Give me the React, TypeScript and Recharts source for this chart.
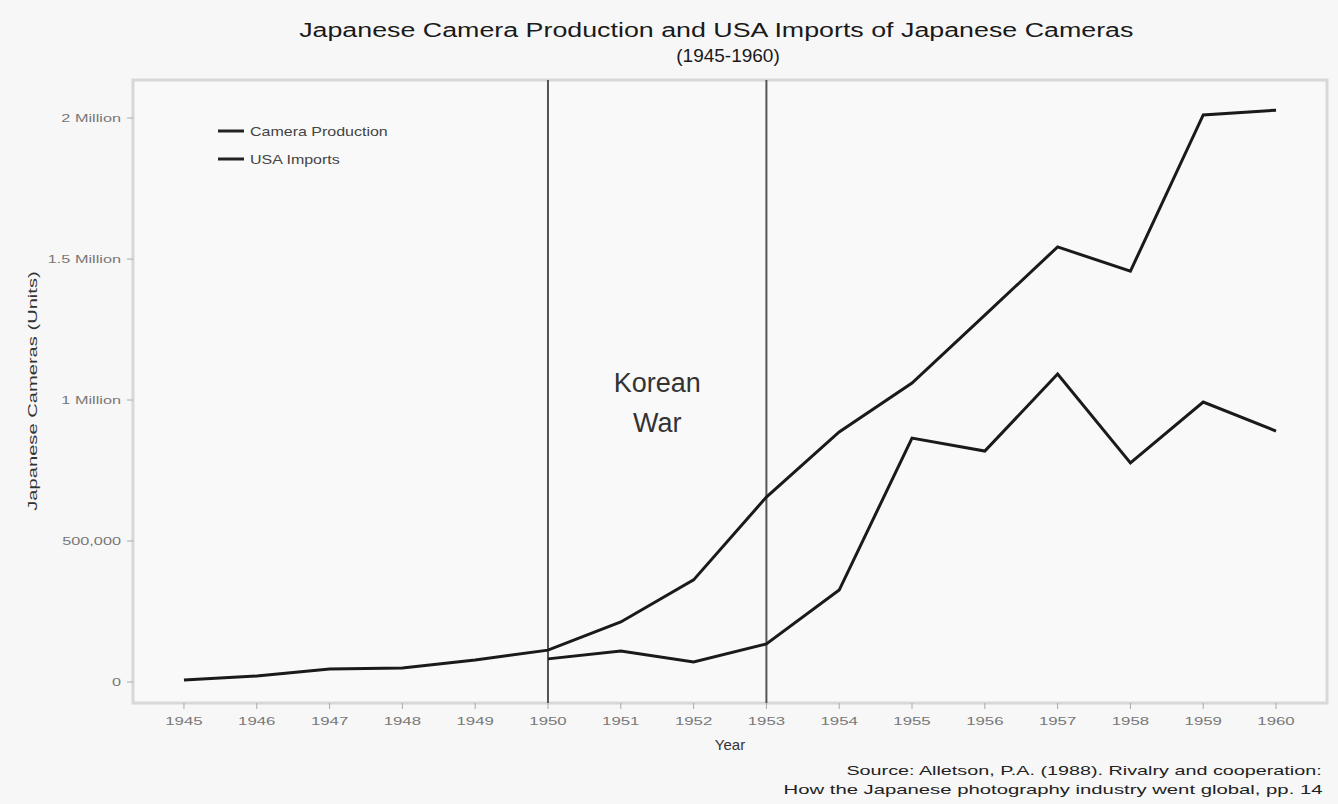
import React from 'react';
import {
  LineChart,
  Line,
  XAxis,
  YAxis,
  ReferenceLine,
  ReferenceArea,
} from 'recharts';

const years = [1945, 1946, 1947, 1948, 1949, 1950, 1951, 1952, 1953, 1954, 1955, 1956, 1957, 1958, 1959, 1960];
const cameraProduction = [7000, 21000, 46000, 50000, 78000, 113000, 213000, 362000, 656000, 887000, 1060000, 1301000, 1543000, 1457000, 2011000, 2028000];
const usaImports = [null, null, null, null, null, 82000, 110000, 71000, 135000, 326000, 865000, 819000, 1092000, 777000, 993000, 890000];
const seriesNames = ['Camera Production', 'USA Imports'];
const yTicks = [0, 500000, 1000000, 1500000, 2000000];
const yTickLabels: Record<number, string> = {
  0: '0',
  500000: '500,000',
  1000000: '1 Million',
  1500000: '1.5 Million',
  2000000: '2 Million',
};
const warStart = 1950;
const warEnd = 1953;

const data = years.map((year, i) => ({
  year,
  production: cameraProduction[i],
  imports: usaImports[i],
}));

const FONT = '"Liberation Sans", Arial, sans-serif';

// the source image has its text stretched sideways, so scale x a bit
const XTick = ({ x, y, payload }: any) => (
  <g transform={`translate(${x},${y})`}>
    <text textAnchor="middle" dy={14} fontSize={10.5} fill="#777" fontFamily={FONT} transform="scale(1.6,1)">
      {payload.value}
    </text>
  </g>
);

const YTick = ({ x, y, payload }: any) => (
  <g transform={`translate(${x - 4},${y})`}>
    <text textAnchor="end" dy={4} fontSize={10.5} fill="#777" fontFamily={FONT} transform="scale(1.55,1)">
      {yTickLabels[payload.value] ?? String(payload.value)}
    </text>
  </g>
);

const YLabel = () => (
  <text
    transform="translate(37,391) rotate(-90) scale(1.55,1)"
    textAnchor="middle"
    fontSize={13}
    fill="#333"
    fontFamily={FONT}
  >
    Japanese Cameras (Units)
  </text>
);

const LegendBox = () => (
  <div style={{ position: 'absolute', left: 216, top: 117, fontFamily: FONT, fontSize: 13, color: '#444' }}>
    {seriesNames.map(name => (
      <div key={name} style={{ display: 'flex', alignItems: 'center', height: 28 }}>
        <svg width={30} height={10}>
          <line x1={2} y1={5} x2={28} y2={5} stroke="#222" strokeWidth={3} />
        </svg>
        <span style={{ marginLeft: 4, display: 'inline-block', transform: 'scaleX(1.23)', transformOrigin: 'left' }}>{name}</span>
      </div>
    ))}
  </div>
);

const WarLabel = (props: any) => {
  const vb = props.viewBox || {};
  const cx = vb.x + vb.width / 2;
  return (
    <text x={cx} y={392} textAnchor="middle" fontFamily={FONT} fontSize={27} fill="#333">
      <tspan x={cx} dy={0}>Korean</tspan>
      <tspan x={cx} dy={40}>War</tspan>
    </text>
  );
};

export default function App() {
  return (
    <div
      style={{
        position: 'absolute',
        left: 0,
        top: 0,
        width: 1338,
        height: 804,
        background: '#f7f7f7',
        fontFamily: FONT,
      }}
    >
      <div style={{ position: 'absolute', top: 18, left: 0, width: 1338, textAlign: 'center', fontSize: 20, color: '#1a1a1a', lineHeight: '25px' }}>
        <div style={{ marginLeft: 95 }}>
          <span style={{ display: 'inline-block', transform: 'scaleX(1.34)' }}>
            Japanese Camera Production and USA Imports of Japanese Cameras
          </span>
        </div>
        <div style={{ marginLeft: 118, fontSize: 19 }}>(1945-1960)</div>
      </div>
      <LineChart
        width={1338}
        height={804}
        data={data}
        margin={{ top: 80, right: 11, bottom: 71, left: 13 }}
        style={{ position: 'absolute', left: 0, top: 0 }}
      >
        <rect x={133} y={80} width={1194} height={623} fill="#f9f9f9" stroke="#d8d8d8" strokeWidth={3} />
        <XAxis
          dataKey="year"
          type="number"
          domain={[1944.3, 1960.7]}
          ticks={years}
          tick={<XTick />}
          tickLine={{ stroke: '#aaa' }}
          axisLine={false}
          allowDataOverflow
          label={{ value: 'Year', position: 'insideBottom', offset: -17, fontSize: 15, fill: '#333', fontFamily: FONT }}
        />
        <YAxis
          type="number"
          domain={[-74500, 2135000]}
          ticks={yTicks}
          allowDataOverflow
          width={120}
          tick={<YTick />}
          tickLine={{ stroke: '#aaa' }}
          axisLine={false}
          label={<YLabel />}
        />
        <ReferenceArea x1={warStart} x2={warEnd} fill="none" fillOpacity={0} label={<WarLabel />} />
        <ReferenceLine x={warStart} stroke="#555" strokeWidth={2} />
        <ReferenceLine x={warEnd} stroke="#555" strokeWidth={2} />
        <Line
          dataKey="production"
          name={seriesNames[0]}
          stroke="#1a1a1a"
          strokeWidth={3}
          dot={false}
          type="linear"
          isAnimationActive={false}
        />
        <Line
          dataKey="imports"
          name={seriesNames[1]}
          stroke="#1a1a1a"
          strokeWidth={3}
          dot={false}
          type="linear"
          isAnimationActive={false}
        />
      </LineChart>
      <LegendBox />
      <div style={{ position: 'absolute', right: 16, top: 761, textAlign: 'right', fontSize: 13, color: '#222', lineHeight: '19px' }}>
        <div>
          <span style={{ display: 'inline-block', transform: 'scaleX(1.52)', transformOrigin: 'right' }}>
            Source: Alletson, P.A. (1988). Rivalry and cooperation:
          </span>
        </div>
        <div>
          <span style={{ display: 'inline-block', transform: 'scaleX(1.56)', transformOrigin: 'right' }}>
            How the Japanese photography industry went global, pp. 14
          </span>
        </div>
      </div>
    </div>
  );
}
